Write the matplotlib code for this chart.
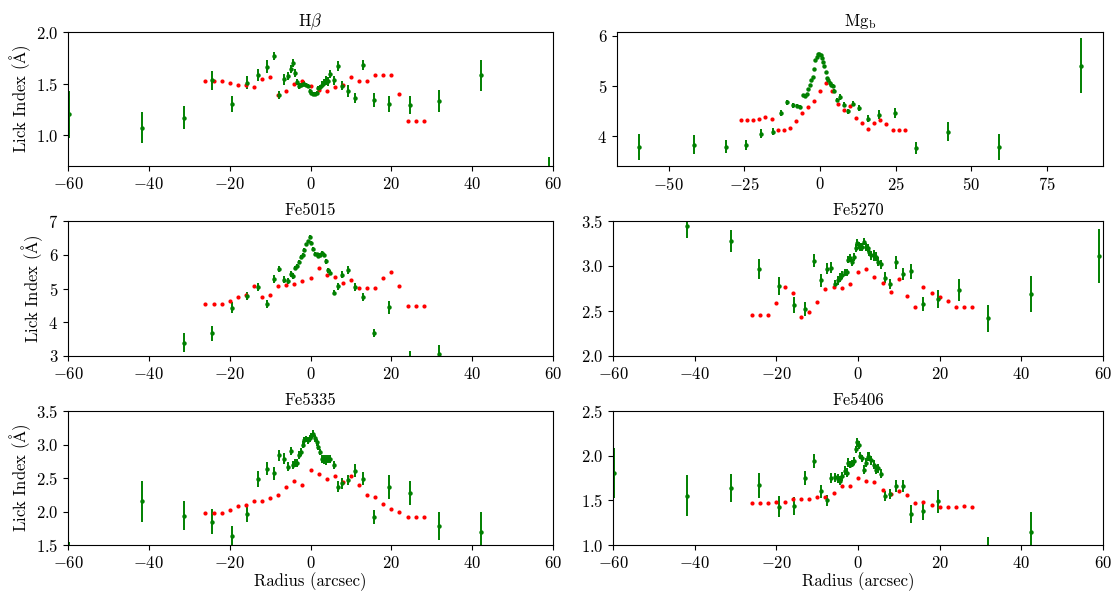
import matplotlib
matplotlib.use('Agg')
import matplotlib.pyplot as plt

plt.rcParams['font.family'] = 'serif'
plt.rcParams['font.serif'] = ['cmr10']
plt.rcParams['mathtext.fontset'] = 'cm'
plt.rcParams['axes.formatter.use_mathtext'] = True
plt.rcParams['font.size'] = 12

# measured radii (arcsec)
radius = [-59.8, -41.8, -31.2, -24.3, -19.4, -15.6, -12.9, -10.8, -9.0, -7.7, -6.6, -5.6,
          -4.9, -4.3, -3.8, -3.3, -2.8, -2.4, -1.9, -1.5, -1.0, -0.6, -0.2, 0.2, 0.6, 1.0,
          1.5, 1.9, 2.4, 2.8, 3.3, 3.8, 4.3, 4.8, 5.7, 6.7, 7.8, 9.2, 10.9, 13.0, 15.8,
          19.5, 24.7, 31.9, 42.3, 59.1, 86.3]

# model radii
model_r = [-26, -24, -22, -20, -18, -16, -14, -12, -10, -8, -6, -4, -2, 0, 2, 4, 6, 8,
           10, 12, 14, 16, 18, 20, 22, 24, 26, 28]

hb = [1.20, 1.07, 1.17, 1.53, 1.30, 1.51, 1.58, 1.665, 1.77, 1.39, 1.54, 1.57, 1.64, 1.70,
      1.60, 1.515, 1.48, 1.49, 1.50, 1.50, 1.49, 1.48, 1.43, 1.41, 1.40, 1.40, 1.41, 1.455,
      1.47, 1.49, 1.51, 1.53, 1.52, 1.59, 1.53, 1.67, 1.48, 1.43, 1.36, 1.68, 1.34, 1.30,
      1.29, 1.33, 1.58, 0.66, 1.0]
hb_err = [0.23, 0.15, 0.11, 0.09, 0.08, 0.06, 0.06, 0.06, 0.04, 0.04, 0.05, 0.04, 0.04, 0.04,
          0.04, 0.03, 0.03, 0.02, 0.02, 0.02, 0.02, 0.02, 0.02, 0.02, 0.02, 0.02, 0.02, 0.02,
          0.02, 0.03, 0.03, 0.04, 0.04, 0.04, 0.04, 0.05, 0.04, 0.06, 0.05, 0.05, 0.07, 0.08,
          0.09, 0.11, 0.15, 0.13, 0.3]
hb_mod = [1.52, 1.52, 1.52, 1.51, 1.49, 1.49, 1.47, 1.54, 1.56, 1.39, 1.43, 1.50, 1.52, 1.48,
          1.44, 1.43, 1.47, 1.49, 1.56, 1.52, 1.52, 1.58, 1.58, 1.58, 1.40, 1.14, 1.14, 1.14]

mgb = [3.79, 3.83, 3.79, 3.83, 4.05, 4.09, 4.47, 4.68, 4.62, 4.61, 4.58, 4.81, 4.80, 4.83,
       4.93, 5.01, 5.11, 5.18, 5.33, 5.52, 5.58, 5.63, 5.64, 5.61, 5.55, 5.47, 5.40, 5.28,
       5.16, 5.11, 5.06, 5.01, 5.00, 4.90, 4.72, 4.78, 4.63, 4.50, 4.65, 4.56, 4.35, 4.43,
       4.47, 3.76, 4.09, 3.79, 5.40]
mgb_err = [0.26, 0.19, 0.13, 0.10, 0.09, 0.07, 0.06, 0.05, 0.05, 0.04, 0.04, 0.03, 0.03, 0.03,
           0.02, 0.02, 0.02, 0.02, 0.02, 0.02, 0.02, 0.02, 0.02, 0.02, 0.02, 0.02, 0.02, 0.02,
           0.02, 0.02, 0.03, 0.03, 0.03, 0.03, 0.04, 0.05, 0.05, 0.05, 0.05, 0.06, 0.07, 0.09,
           0.10, 0.12, 0.19, 0.26, 0.55]
mgb_mod = [4.33, 4.33, 4.33, 4.35, 4.39, 4.34, 4.12, 4.13, 4.17, 4.30, 4.46, 4.58, 4.71, 4.89,
           5.05, 4.89, 4.65, 4.52, 4.61, 4.37, 4.26, 4.15, 4.26, 4.33, 4.24, 4.12, 4.12, 4.12]

fe5015 = [2.5, 2.6, 3.40, 3.67, 4.43, 4.78, 5.05, 4.55, 5.29, 5.58, 5.26, 5.21, 5.43, 5.38,
          5.61, 5.67, 5.78, 5.94, 5.99, 6.14, 6.31, 6.40, 6.53, 6.36, 6.18, 6.02, 6.01, 5.96,
          5.99, 6.04, 5.98, 5.81, 5.54, 5.47, 4.88, 5.07, 5.41, 5.54, 5.05, 4.75, 3.69, 4.44,
          2.85, 3.06, 2.4, 2.3, 5.0]
fe5015_err = [0.5, 0.4, 0.28, 0.22, 0.17, 0.13, 0.12, 0.12, 0.12, 0.10, 0.10, 0.09, 0.09, 0.09,
              0.07, 0.07, 0.06, 0.06, 0.05, 0.05, 0.05, 0.05, 0.05, 0.05, 0.05, 0.05, 0.05, 0.05,
              0.06, 0.06, 0.06, 0.07, 0.07, 0.07, 0.08, 0.10, 0.10, 0.12, 0.12, 0.12, 0.12, 0.20,
              0.30, 0.27, 0.4, 0.5, 0.8]
fe5015_mod = [4.53, 4.53, 4.53, 4.62, 4.74, 4.81, 5.06, 4.75, 4.82, 5.07, 5.09, 5.13, 5.23, 5.30,
              5.62, 5.40, 5.34, 5.15, 5.25, 5.01, 5.01, 5.01, 5.30, 5.48, 5.07, 4.47, 4.47, 4.47]

fe5270 = [3.75, 3.44, 3.28, 2.97, 2.78, 2.57, 2.52, 3.06, 2.84, 2.97, 2.98, 2.80, 2.84, 2.87,
          2.90, 2.93, 2.93, 3.07, 3.09, 3.04, 3.10, 3.20, 3.26, 3.23, 3.21, 3.21, 3.27, 3.21,
          3.20, 3.16, 3.12, 3.12, 3.10, 3.05, 3.02, 2.87, 2.80, 3.04, 2.91, 2.94, 2.58, 2.63,
          2.73, 2.42, 2.69, 3.11, 3.0]
fe5270_err = [0.18, 0.13, 0.12, 0.11, 0.10, 0.09, 0.08, 0.07, 0.07, 0.06, 0.06, 0.05, 0.05, 0.05,
              0.04, 0.04, 0.04, 0.04, 0.04, 0.04, 0.04, 0.04, 0.04, 0.04, 0.04, 0.04, 0.04, 0.04,
              0.04, 0.05, 0.05, 0.06, 0.05, 0.05, 0.05, 0.06, 0.06, 0.07, 0.07, 0.08, 0.08, 0.10,
              0.12, 0.15, 0.20, 0.30, 0.4]
fe5270_mod = [2.46, 2.46, 2.46, 2.585, 2.77, 2.70, 2.43, 2.49, 2.60, 2.74, 2.77, 2.76, 2.80, 2.93,
              2.97, 2.88, 2.81, 2.71, 2.85, 2.67, 2.55, 2.77, 2.70, 2.66, 2.61, 2.54, 2.54, 2.54]

fe5335 = [1.25, 2.15, 1.94, 1.85, 1.63, 1.96, 2.48, 2.64, 2.57, 2.84, 2.79, 2.67, 2.91, 2.69,
          2.73, 2.72, 2.84, 2.89, 3.00, 3.06, 3.08, 3.06, 3.09, 3.12, 3.16, 3.09, 3.03, 2.97,
          2.89, 2.78, 2.78, 2.77, 2.78, 2.78, 2.69, 2.37, 2.42, 2.47, 2.61, 2.49, 1.92, 2.36,
          2.28, 1.79, 1.69, 1.3, 2.0]
fe5335_err = [0.30, 0.30, 0.22, 0.18, 0.16, 0.12, 0.12, 0.10, 0.10, 0.08, 0.08, 0.07, 0.06, 0.06,
              0.06, 0.06, 0.06, 0.06, 0.05, 0.05, 0.05, 0.05, 0.05, 0.05, 0.05, 0.05, 0.05, 0.05,
              0.05, 0.06, 0.07, 0.07, 0.06, 0.06, 0.06, 0.08, 0.08, 0.08, 0.10, 0.10, 0.10, 0.18,
              0.18, 0.21, 0.30, 0.15, 0.5]
fe5335_mod = [1.98, 1.98, 1.98, 2.02, 2.08, 2.10, 2.16, 2.16, 2.20, 2.24, 2.37, 2.46, 2.40, 2.62,
              2.56, 2.49, 2.53, 2.44, 2.53, 2.39, 2.25, 2.22, 2.11, 2.04, 1.99, 1.92, 1.92, 1.92]

fe5406 = [1.81, 1.55, 1.64, 1.67, 1.43, 1.44, 1.75, 1.94, 1.60, 1.50, 1.75, 1.76, 1.74, 1.72,
          1.77, 1.83, 1.81, 1.92, 1.90, 1.91, 1.94, 2.07, 2.15, 2.12, 2.00, 1.97, 1.84, 1.92,
          1.99, 1.99, 1.95, 1.90, 1.84, 1.86, 1.80, 1.55, 1.57, 1.66, 1.66, 1.35, 1.38, 1.49,
          0.90, 0.93, 1.14, 0.8, 1.5]
fe5406_err = [0.28, 0.23, 0.16, 0.14, 0.12, 0.10, 0.08, 0.08, 0.07, 0.06, 0.06, 0.05, 0.05, 0.05,
              0.05, 0.05, 0.05, 0.05, 0.04, 0.04, 0.04, 0.04, 0.05, 0.04, 0.04, 0.04, 0.05, 0.05,
              0.05, 0.05, 0.05, 0.05, 0.05, 0.05, 0.05, 0.06, 0.06, 0.07, 0.07, 0.10, 0.10, 0.13,
              0.10, 0.16, 0.23, 0.15, 0.4]
fe5406_mod = [1.47, 1.47, 1.47, 1.48, 1.48, 1.52, 1.51, 1.51, 1.54, 1.54, 1.58, 1.66, 1.66, 1.75,
              1.72, 1.71, 1.62, 1.57, 1.60, 1.56, 1.47, 1.48, 1.45, 1.43, 1.43, 1.43, 1.44, 1.43]

W, H = 1111, 592
fig = plt.figure(figsize=(W / 100, H / 100), dpi=100)


def box(x0, x1, top, bottom):
    return [x0 / W, 1 - bottom / H, (x1 - x0) / W, (bottom - top) / H]


panels = [
    (r'H$\beta$', hb, hb_err, hb_mod, box(68, 553, 32, 166), (-60, 60), (0.7, 2.0)),
    (r'Mg$_{\rm b}$', mgb, mgb_err, mgb_mod, box(617, 1103, 32, 166), None, None),
    ('Fe5015', fe5015, fe5015_err, fe5015_mod, box(68, 553, 221, 356), (-60, 60), (3, 7)),
    ('Fe5270', fe5270, fe5270_err, fe5270_mod, box(613, 1103, 221, 356), (-60, 60), (2.0, 3.5)),
    ('Fe5335', fe5335, fe5335_err, fe5335_mod, box(68, 553, 411, 545), (-60, 60), (1.5, 3.5)),
    ('Fe5406', fe5406, fe5406_err, fe5406_mod, box(613, 1103, 411, 545), (-60, 60), (1.0, 2.5)),
]

for i, (name, vals, errs, mod, pos, xl, yl) in enumerate(panels):
    ax = fig.add_axes(pos)
    ax.errorbar(radius, vals, yerr=errs, fmt='o', color='green', ms=3.2, mew=0,
                elinewidth=1.4, capsize=0)
    ax.plot(model_r, mod, 'o', color='red', ms=3, mew=0)
    if xl is not None:
        ax.set_xlim(xl)
        ax.set_ylim(yl)
    else:
        ax.set_xticks([-50, -25, 0, 25, 50, 75])
        ax.set_yticks([4, 5, 6])
    ax.set_title(name, fontsize=12, pad=4)
    if i % 2 == 0:
        ax.set_ylabel(r'Lick Index ($\mathrm{\AA}$)', labelpad=2)
    if i >= 4:
        ax.set_xlabel('Radius (arcsec)', labelpad=1)

fig.savefig('out.png', dpi=100)
